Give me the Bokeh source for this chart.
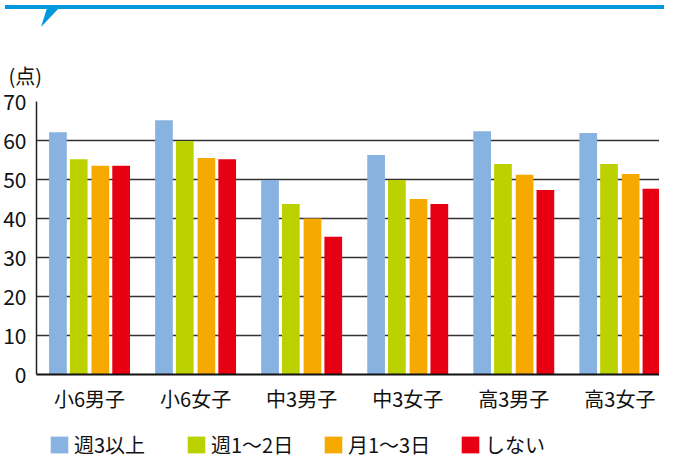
import numpy as np
from bokeh.plotting import figure
from bokeh.models import (Range1d, FixedTicker, Legend, LegendItem, Div,
                          ColumnDataSource)
from bokeh.layouts import column
from bokeh.embed import file_html
from bokeh.resources import INLINE

# ---- data ----
categories = ["小6男子", "小6女子", "中3男子", "中3女子", "高3男子", "高3女子"]
series_names = ["週3以上", "週1～2日", "月1～3日", "しない"]
weekly_3plus = [62.1, 65.2, 49.9, 56.3, 62.4, 61.9]
weekly_1to2 = [55.2, 59.9, 43.7, 49.9, 54.0, 54.0]
monthly_1to3 = [53.5, 55.5, 40.0, 45.0, 51.2, 51.4]
never = [53.5, 55.2, 35.3, 43.7, 47.3, 47.6]
y_ticks = [0, 10, 20, 30, 40, 50, 60, 70]
y_unit = "(点)"

series_values = [weekly_3plus, weekly_1to2, monthly_1to3, never]
colors = ["#88B2DF", "#BCD200", "#F6AA00", "#E60012"]
offsets = [-0.298, -0.102, 0.102, 0.298]
bar_width = 0.167

FONT = "Noto Sans CJK JP"
W = 659

idx = np.arange(len(categories))
sources = [ColumnDataSource(dict(x=idx + off, top=vals))
           for vals, off in zip(series_values, offsets)]

# ---- main chart ----
p = figure(width=W, height=390, output_backend="svg", toolbar_location=None,
           x_range=Range1d(-0.5, 5.374), y_range=Range1d(0, 70),
           min_border_left=27, min_border_right=0, min_border_top=69,
           min_border_bottom=48)

for src, col in zip(sources, colors):
    p.vbar(x="x", top="top", width=bar_width, source=src,
           fill_color=col, line_color=None)

p.xaxis.ticker = FixedTicker(ticks=list(idx))
p.xaxis.major_label_overrides = {int(i): c for i, c in zip(idx, categories)}
p.xaxis.major_tick_line_color = None
p.xaxis.minor_tick_line_color = None
p.xaxis.axis_line_color = "#111111"
p.xaxis.axis_line_width = 2
p.xaxis.major_label_text_font = FONT
p.xaxis.major_label_text_font_size = "20px"
p.xaxis.major_label_text_color = "#111111"
p.xaxis.major_label_standoff = 3

p.yaxis.ticker = FixedTicker(ticks=y_ticks)
p.yaxis.major_tick_line_color = None
p.yaxis.minor_tick_line_color = None
p.yaxis.axis_line_color = "#222222"
p.yaxis.axis_line_width = 1.5
p.yaxis.major_label_text_font = FONT
p.yaxis.major_label_text_font_size = "21px"
p.yaxis.major_label_text_color = "#111111"
p.yaxis.major_label_standoff = 4

p.xgrid.grid_line_color = None
p.ygrid.ticker = FixedTicker(ticks=y_ticks)
p.ygrid.grid_line_color = "#333333"
p.ygrid.grid_line_width = 1.3
p.outline_line_color = None

p.title.text = y_unit
p.title.align = "left"
p.title.offset = -28
p.title.text_font = FONT
p.title.text_font_size = "20px"
p.title.text_font_style = "normal"
p.title.text_color = "#111111"
p.title.standoff = 24

# ---- legend strip (hidden renderers of the same series) ----
lg = figure(width=W, height=36, output_backend="svg", toolbar_location=None,
            x_range=Range1d(-0.5, 5.374), y_range=Range1d(0, 70),
            x_axis_location=None, y_axis_location=None,
            min_border_left=0, min_border_right=0, min_border_top=0,
            min_border_bottom=0)
lg.grid.grid_line_color = None
lg.outline_line_color = None
items = []
for name, src, col in zip(series_names, sources, colors):
    r = lg.vbar(x="x", top="top", width=bar_width, source=src,
                fill_color=col, line_color=None)
    r.visible = False
    items.append(LegendItem(label=name, renderers=[r]))
legend = Legend(items=items, orientation="horizontal", location=(12, -1),
                glyph_width=22, glyph_height=21, label_width=100,
                spacing=11, label_standoff=4, padding=0, margin=0,
                border_line_color=None, background_fill_alpha=0,
                inactive_fill_alpha=0, click_policy="none",
                label_text_font=FONT, label_text_font_size="20px",
                label_text_color="#111111")
lg.add_layout(legend)

# ---- decorative banner ----
banner = Div(width=W, height=22, text=(
    '<svg width="659" height="22" style="display:block">'
    '<rect x="0" y="0" width="659" height="4" fill="#0099DD"/>'
    '<polygon points="42,3 54,3 36,22" fill="#0099DD"/></svg>'))

layout = column(banner, p, lg, spacing=0)
open("out.html", "w").write(file_html(layout, INLINE))
